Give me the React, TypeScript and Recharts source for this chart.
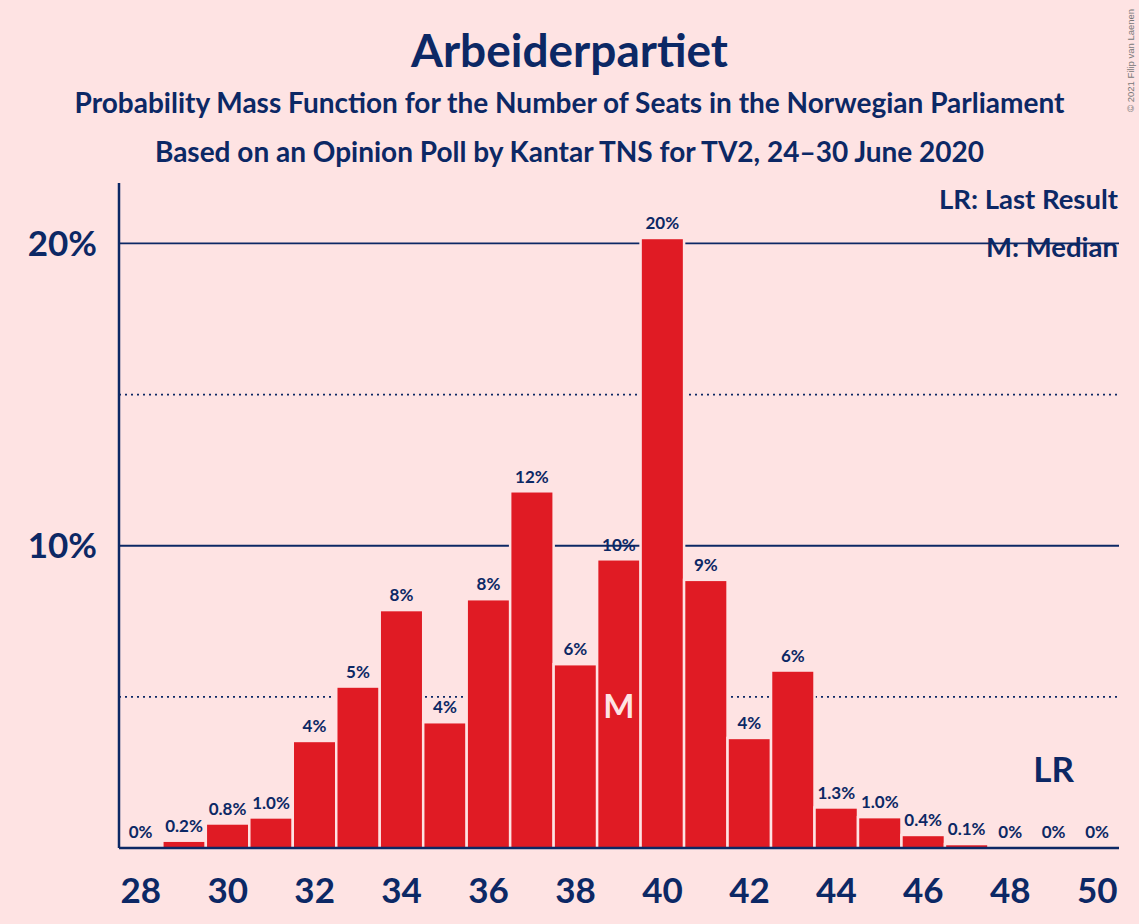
import React from 'react';
import { BarChart, Bar, XAxis, YAxis, CartesianGrid, LabelList } from 'recharts';

const seats = [28, 29, 30, 31, 32, 33, 34, 35, 36, 37, 38, 39, 40, 41, 42, 43, 44, 45, 46, 47, 48, 49, 50];
const probabilities = [0, 0.2, 0.77, 0.97, 3.5, 5.3, 7.83, 4.12, 8.19, 11.76, 6.04, 9.51, 20.14, 8.83, 3.6, 5.83, 1.3, 0.98, 0.39, 0.09, 0, 0, 0];
const yTicks = [10, 20];
const solidGrid = [10, 20];
const dottedGrid = [5, 15];
const medianSeat = 39;
const lastResultSeat = 49;

const title = 'Arbeiderpartiet';
const subtitle1 = 'Probability Mass Function for the Number of Seats in the Norwegian Parliament';
const subtitle2 = 'Based on an Opinion Poll by Kantar TNS for TV2, 24–30 June 2020';
const legendLR = 'LR: Last Result';
const legendM = 'M: Median';
const copyright = '© 2021 Filip van Laenen';

const data = seats.map((s, i) => ({ seat: s, p: probabilities[i] }));

const NAVY = '#0c2865';
const RED = '#e01b24';
const BG = '#fee3e3';
const FONT = 'Lato, "Open Sans", sans-serif';

const fmt = (v: number) => {
  if (v === 0) return '0%';
  if (v < 2) return v.toFixed(1) + '%';
  return Math.round(v) + '%';
};

const BarShape = (props: any) => {
  const { x, y, width, height } = props;
  if (!height || height <= 0) return <g />;
  return (
    <g>
      <rect x={x - 2.5} y={y - 2.5} width={width + 5} height={height + 2.5} fill={BG} />
      <rect x={x} y={y} width={width} height={height} fill={RED} />
    </g>
  );
};

const BarLabel = (props: any) => {
  const vb = props.viewBox || props;
  const x = vb.x ?? props.x;
  const y = vb.y ?? props.y;
  const width = vb.width ?? props.width;
  const height = vb.height ?? props.height;
  const idx = props.index;
  const value = Number(props.value);
  const cx = x + width / 2;
  const top = Math.min(y, y + height);
  const bottom = Math.max(y, y + height);
  const seat = seats[idx];
  return (
    <g>
      <text x={cx} y={top - 10} textAnchor="middle" fill={NAVY} fontSize={17} fontWeight={700} fontFamily={FONT}>
        {fmt(value)}
      </text>
      {seat === medianSeat && (
        <text x={cx} y={bottom - 130} textAnchor="middle" fill={BG} fontSize={33} fontWeight={700} fontFamily={FONT}>
          M
        </text>
      )}
      {seat === lastResultSeat && (
        <text x={cx} y={bottom - 66} textAnchor="middle" fill={NAVY} fontSize={35} fontWeight={700} fontFamily={FONT}>
          LR
        </text>
      )}
    </g>
  );
};

export default function App() {
  return (
    <div style={{ position: 'absolute', left: 0, top: 0, width: 1139, height: 924, background: BG }}>
      <BarChart
        width={1139}
        height={924}
        data={data}
        margin={{ top: 183, right: 20, bottom: 16, left: 0 }}
        barCategoryGap={1.1}
      >
        <CartesianGrid vertical={false} horizontalValues={solidGrid} stroke={NAVY} strokeWidth={1.8} />
        <CartesianGrid vertical={false} horizontalValues={dottedGrid} stroke={NAVY} strokeWidth={1.8} strokeDasharray="2 4" />
        <XAxis
          dataKey="seat"
          interval={1}
          height={60}
          tickSize={0}
          tickMargin={30}
          axisLine={{ stroke: NAVY, strokeWidth: 2.5 }}
          tickLine={false}
          tick={{ fill: NAVY, fontSize: 35, fontWeight: 700, fontFamily: FONT }}
        />
        <YAxis
          domain={[0, 22]}
          ticks={yTicks}
          width={119}
          tickSize={0}
          tickMargin={22}
          axisLine={{ stroke: NAVY, strokeWidth: 2.5 }}
          tickLine={false}
          tickFormatter={(v: number) => v + '%'}
          tick={{ fill: NAVY, fontSize: 35, fontWeight: 700, fontFamily: FONT }}
        />
        <Bar dataKey="p" isAnimationActive={false} shape={<BarShape />}>
          <LabelList dataKey="p" content={<BarLabel />} />
        </Bar>
      </BarChart>
      <svg width={1139} height={924} style={{ position: 'absolute', left: 0, top: 0, pointerEvents: 'none' }}>
        <text x={569.5} y={66.7} textAnchor="middle" fill={NAVY} fontSize={46} fontWeight={700} fontFamily={FONT}>
          {title}
        </text>
        <text x={569.5} y={113} textAnchor="middle" fill={NAVY} fontSize={28} fontWeight={700} fontFamily={FONT}>
          {subtitle1}
        </text>
        <text x={569.5} y={162} textAnchor="middle" fill={NAVY} fontSize={28} fontWeight={700} fontFamily={FONT}>
          {subtitle2}
        </text>
        <text x={1118} y={209} textAnchor="end" fill={NAVY} fontSize={27.5} fontWeight={700} fontFamily={FONT}>
          {legendLR}
        </text>
        <text x={1118} y={257} textAnchor="end" fill={NAVY} fontSize={27.5} fontWeight={700} fontFamily={FONT}>
          {legendM}
        </text>
        <text
          x={1134}
          y={112}
          transform="rotate(-90, 1134, 112)"
          textAnchor="start"
          fill="#777"
          fontSize={9.5}
          fontFamily='"Liberation Sans", Arial, sans-serif'
        >
          {copyright}
        </text>
      </svg>
    </div>
  );
}
